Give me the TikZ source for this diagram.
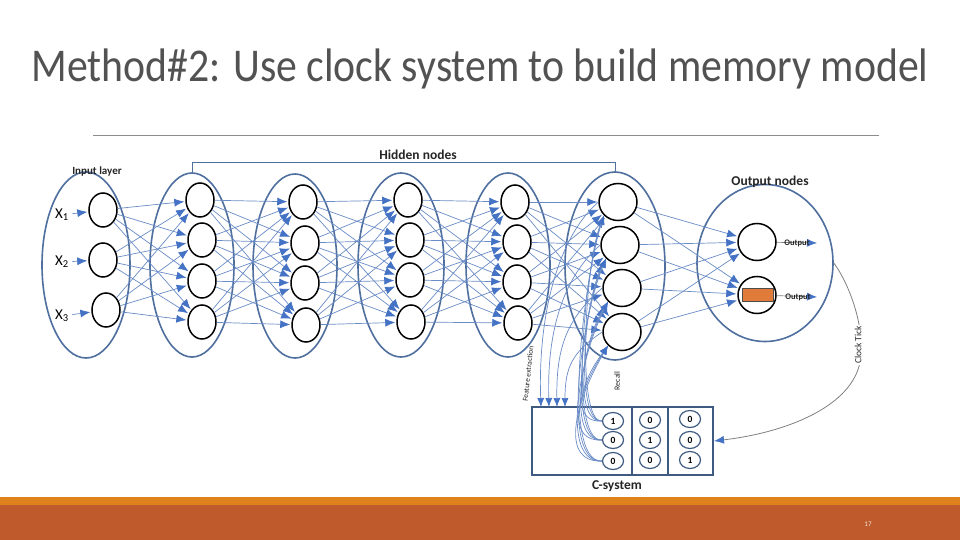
\documentclass[tikz,border=0pt]{standalone}
\usepackage{fontspec}
\usepackage{graphicx}
\setmainfont{Carlito}
\setsansfont{Carlito}
\usetikzlibrary{shapes.geometric,arrows.meta}
\definecolor{lyr}{HTML}{4F6F9F}
\definecolor{edg}{HTML}{6A8CC6}
\definecolor{tipc}{HTML}{4472C4}
\definecolor{csys}{HTML}{3F5A80}
\definecolor{barA}{HTML}{E0821C}
\definecolor{barB}{HTML}{BE5A2C}
\definecolor{orng}{HTML}{E07B39}
\begin{document}
\begin{tikzpicture}[x=1pt,y=-1pt,
  layer/.style={draw=lyr, line width=1.6pt, ellipse, inner sep=0pt},
  neuron/.style={draw=black, line width=1.5pt, ellipse, minimum width=28pt, minimum height=34pt, inner sep=0pt},
  bigneuron/.style={neuron, minimum width=38pt, minimum height=37pt},
  conn/.style={draw=edg, line width=0.7pt, -{Latex[length=10pt,width=8pt,color=tipc]}, shorten >=1pt},
  curv/.style={draw=edg, line width=0.7pt, -{Latex[length=9pt,width=7pt,color=tipc]}},
  lbl/.style={font=\bfseries\fontsize{13.5}{15}\selectfont, text=black!85},
  small/.style={font=\fontsize{8}{9}\selectfont, text=black!85},
  bit/.style={draw=csys, line width=1.2pt, ellipse, minimum width=21pt, minimum height=17pt, inner sep=0pt, font=\bfseries\fontsize{9.5}{10}\selectfont},
]
\useasboundingbox (0,0) rectangle (960,540);
\fill[white] (0,0) rectangle (960,540);

% title
\node[anchor=base, text=black!68, font=\fontsize{47}{54}\selectfont] (title) at (480,82) {\scalebox{0.888}[1]{Method\#2: Use clock system to build memory model}};
\draw[black!45, line width=0.9pt] (93,135) -- (879,135);

% bottom bars
\fill[barA] (0,497) rectangle (960,505);
\fill[barB] (0,505) rectangle (960,540);
\node[text=white!85!barB, font=\fontsize{7}{8}\selectfont] (pg) at (868,524) {17};

% layers
\node[layer, minimum width=88pt, minimum height=186pt] (L0) at (86,265) {};
\node[layer, minimum width=84pt, minimum height=184pt] (L1) at (192,265) {};
\node[layer, minimum width=84pt, minimum height=184pt] (L2) at (295,266) {};
\node[layer, minimum width=86pt, minimum height=184pt] (L3) at (401,265) {};
\node[layer, minimum width=84pt, minimum height=184pt] (L4) at (508,265) {};
\node[layer, minimum width=100pt, minimum height=188pt] (L5) at (615,266) {};
\node[layer, minimum width=136pt, minimum height=157pt] (LO) at (765,263) {};

% neurons
\node[neuron] (i1) at (103,210) {};
\node[neuron] (i2) at (103,260) {};
\node[neuron] (i3) at (106,310) {};
\node[neuron] (h11) at (200,200) {};
\node[neuron] (h12) at (202,240) {};
\node[neuron] (h13) at (202,281) {};
\node[neuron] (h14) at (202,322) {};
\node[neuron] (h21) at (303,202) {};
\node[neuron] (h22) at (305,243) {};
\node[neuron] (h23) at (305,283) {};
\node[neuron] (h24) at (306,325) {};
\node[neuron] (h31) at (408,200) {};
\node[neuron] (h32) at (410,240) {};
\node[neuron] (h33) at (410,280) {};
\node[neuron] (h34) at (411,322) {};
\node[neuron] (h41) at (515,202) {};
\node[neuron] (h42) at (517,242) {};
\node[neuron] (h43) at (517,282) {};
\node[neuron] (h44) at (518,323) {};
\node[bigneuron] (h51) at (618,202) {};
\node[bigneuron] (h52) at (620,245) {};
\node[bigneuron] (h53) at (622,288) {};
\node[bigneuron] (h54) at (622,332) {};
\node[bigneuron] (o1) at (757,242) {};
\node[bigneuron] (o2) at (757,295) {};
\fill[orng] (742,288) rectangle (773,301);
\draw[black!70, line width=0.5pt] (742,288) rectangle (773,301);

% labels
\node[lbl, font=\bfseries\fontsize{11}{12}\selectfont] (inl) at (97,172) {Input layer};
\node[lbl] (hid) at (418,155) {Hidden nodes};
\node[lbl] (outl) at (770,182) {Output nodes};
\draw[lyr, line width=0.8pt] (L1.north) -- ++(0,-10) -| (L5.north);

% input labels
\node[font=\fontsize{15}{16}\selectfont] (x1) at (62,215) {X\textsubscript{1}};
\node[font=\fontsize{15}{16}\selectfont] (x2) at (62,262) {X\textsubscript{2}};
\node[font=\fontsize{15}{16}\selectfont] (x3) at (62,316) {X\textsubscript{3}};
\draw[conn] (x1) -- (i1);
\draw[conn] (x2) -- (i2);
\draw[conn] (x3) -- (i3);

% connections
\foreach \s in {1,2,3} \foreach \t in {1,...,4} \draw[conn] (i\s) -- (h1\t);
\foreach \l/\m in {1/2,2/3,3/4,4/5} \foreach \s in {1,...,4} \foreach \t in {1,...,4} \draw[conn] (h\l\s) -- (h\m\t);
\foreach \s in {1,...,4} \foreach \t in {1,2} \draw[conn] (h5\s) -- (o\t);

% outputs
\coordinate (oa1) at (818,243);
\coordinate (oa2) at (818,297);
\draw[conn, draw=black!50] (o1) -- (oa1);
\draw[conn, draw=black!50] (o2) -- (oa2);
\node[small, font=\bfseries\fontsize{8.5}{9}\selectfont] (ot1) at (797,243) {Output};
\node[small, font=\bfseries\fontsize{8.5}{9}\selectfont] (ot2) at (798,297) {Output};

% C-system
\node[draw=csys, line width=2pt, minimum width=181pt, minimum height=68pt, inner sep=0pt] (cs) at (622.5,441) {};
\draw[csys, line width=2pt] (632,407) -- (632,475);
\draw[csys, line width=2pt] (668,407) -- (668,475);
\node[bit] (c11) at (613,421) {1};
\node[bit] (c12) at (613,440) {0};
\node[bit] (c13) at (613,461) {0};
\node[bit] (c21) at (650,420) {0};
\node[bit] (c22) at (650,440) {1};
\node[bit] (c23) at (650,460) {0};
\node[bit] (c31) at (690,419) {0};
\node[bit] (c32) at (690,440) {0};
\node[bit] (c33) at (690,460) {1};
\node[lbl] (csl) at (617,486) {C-system};

% feature extraction
\coordinate (fe1) at (541,407);
\coordinate (fe2) at (549,407);
\coordinate (fe3) at (557,407);
\coordinate (fe4) at (565,407);
\draw[curv] (h51.west) .. controls +(-45,40) and +(-3,-80) .. (fe1);
\draw[curv] (h52.west) .. controls +(-40,35) and +(-2,-70) .. (fe2);
\draw[curv] (h53.west) .. controls +(-35,30) and +(-1,-60) .. (fe3);
\draw[curv] (h54.west) .. controls +(-30,20) and +(0,-40) .. (fe4);
\node[small, rotate=84, font=\fontsize{7.5}{8}\selectfont] (fel) at (528,374) {Feature extraction};

% recall
\foreach \r in {1,2,3} \foreach \k in {1,...,4}
  \draw[curv] (c1\r.west) .. controls +({-18-8*\r},2) and +({-14-5*\k},{40+6*\r}) .. (h5\k.south west);
\node[small, rotate=90] (rcl) at (617,381) {Recall};

% clock tick
\draw[black!50, line width=0.8pt, -{Latex[length=10pt,width=8pt,color=tipc]}] (LO.east) .. controls (850,285) and (866,330) .. (860,362) .. controls (852,405) and (790,432) .. (cs.east);
\node[small, rotate=90, font=\fontsize{9.5}{10}\selectfont, fill=white, inner sep=1pt] (ckt) at (858,345) {Clock Tick};
\end{tikzpicture}
\end{document}
